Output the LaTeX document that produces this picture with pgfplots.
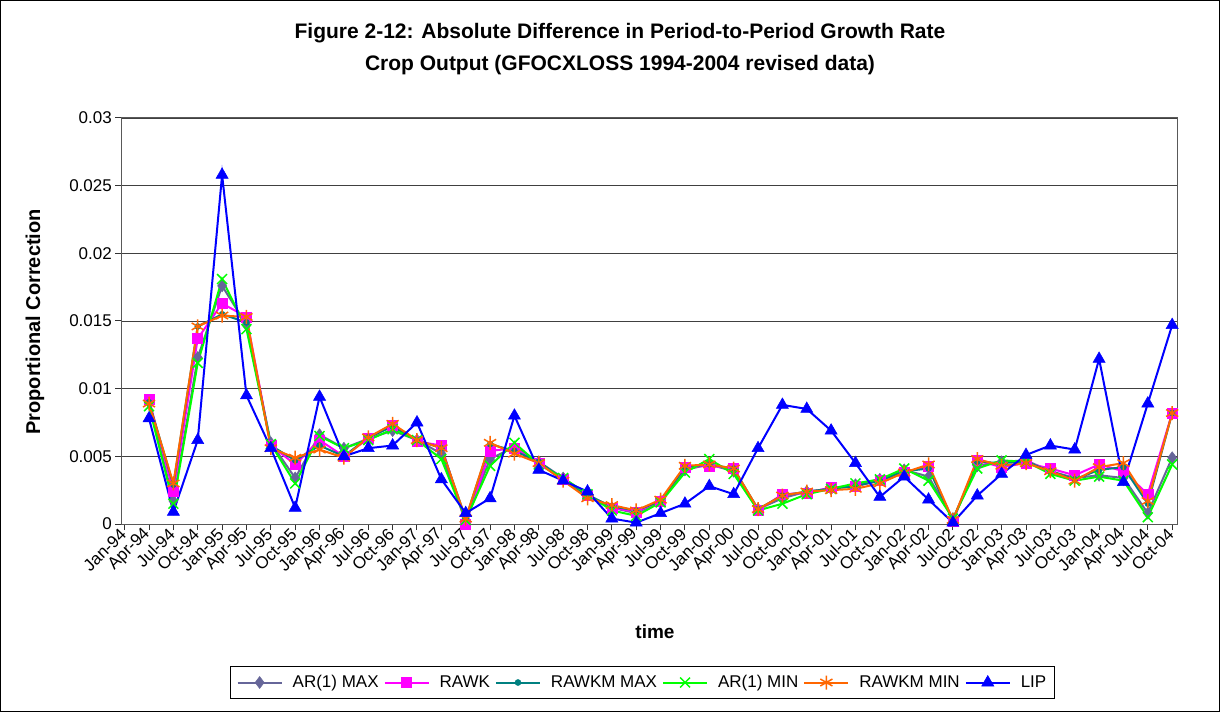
\documentclass[border=0pt]{standalone}
\usepackage{pgfplots}
\pgfplotsset{compat=1.18}
\usepackage{pgfplotstable}
\usepackage{fontspec}
\setmainfont{Liberation Sans}

\definecolor{armax}{HTML}{666699}
\definecolor{rawk}{HTML}{FF00FF}
\definecolor{rawkmmax}{HTML}{008080}
\definecolor{armin}{HTML}{00FF00}
\definecolor{rawkmmin}{HTML}{FF6600}
\definecolor{lip}{HTML}{0000FF}

\pgfplotstableread{
x armax rawk rkmax armin rkmin lip
1 0.0090 0.0092 0.0090 0.0087 0.0089 0.0078
2 0.0017 0.0024 0.0029 0.0015 0.0030 0.0009
3 0.0123 0.0137 0.0146 0.0119 0.0146 0.0062
4 0.0176 0.0163 0.0155 0.0181 0.0154 0.0258
5 0.0147 0.0153 0.0149 0.0144 0.0153 0.0095
6 0.0060 0.0058 0.0058 0.0059 0.0056 0.0056
7 0.0034 0.0044 0.0047 0.0030 0.0049 0.0012
8 0.0066 0.0062 0.0058 0.0065 0.0055 0.0094
9 0.0056 0.0050 0.0050 0.0056 0.0049 0.0050
10 0.0063 0.0063 0.0064 0.0062 0.0064 0.0056
11 0.0069 0.0073 0.0072 0.0070 0.0074 0.0058
12 0.0062 0.0061 0.0062 0.0062 0.0062 0.0075
13 0.0052 0.0058 0.0056 0.0048 0.0056 0.0033
14 0.0003 0.0000 0.0004 0.0003 0.0004 0.0008
15 0.0048 0.0054 0.0059 0.0043 0.0060 0.0019
16 0.0057 0.0056 0.0054 0.0060 0.0052 0.0080
17 0.0046 0.0045 0.0046 0.0044 0.0045 0.0040
18 0.0034 0.0033 0.0033 0.0034 0.0032 0.0032
19 0.0022 0.0021 0.0021 0.0022 0.0019 0.0024
20 0.0012 0.0012 0.0013 0.0010 0.0014 0.0004
21 0.0008 0.0009 0.0010 0.0006 0.0010 0.0001
22 0.0017 0.0017 0.0017 0.0016 0.0018 0.0008
23 0.0040 0.0042 0.0042 0.0038 0.0043 0.0015
24 0.0044 0.0043 0.0044 0.0048 0.0044 0.0028
25 0.0039 0.0041 0.0041 0.0037 0.0041 0.0022
26 0.0011 0.0010 0.0011 0.0010 0.0011 0.0056
27 0.0019 0.0022 0.0021 0.0015 0.0021 0.0088
28 0.0024 0.0023 0.0024 0.0022 0.0024 0.0085
29 0.0026 0.0027 0.0026 0.0026 0.0025 0.0069
30 0.0029 0.0028 0.0028 0.0030 0.0026 0.0045
31 0.0033 0.0032 0.0032 0.0033 0.0030 0.0020
32 0.0040 0.0038 0.0039 0.0041 0.0038 0.0035
33 0.0035 0.0043 0.0041 0.0032 0.0044 0.0018
34 0.0004 0.0002 0.0003 0.0004 0.0003 0.0001
35 0.0043 0.0047 0.0046 0.0041 0.0048 0.0021
36 0.0046 0.0042 0.0045 0.0047 0.0043 0.0037
37 0.0047 0.0045 0.0046 0.0046 0.0045 0.0051
38 0.0039 0.0041 0.0039 0.0037 0.0039 0.0058
39 0.0034 0.0036 0.0033 0.0032 0.0032 0.0055
40 0.0036 0.0044 0.0040 0.0035 0.0042 0.0122
41 0.0034 0.0039 0.0042 0.0032 0.0045 0.0031
42 0.0008 0.0022 0.0015 0.0005 0.0017 0.0089
43 0.0049 0.0082 0.0082 0.0044 0.0082 0.0147
}\data

\begin{document}
\begin{tikzpicture}[x=1pt,y=1pt]
\draw[line width=1.4pt] (0.7,0.7) rectangle (1219.3,711.3);
\node[font=\fontsize{21}{21}\selectfont\bfseries] at (620,679) {Figure 2-12: Absolute Difference in Period-to-Period Growth Rate};
\node[font=\fontsize{21}{21}\selectfont\bfseries] at (620,647) {Crop Output (GFOCXLOSS 1994-2004 revised data)};
\node[font=\fontsize{20}{20}\selectfont\bfseries, rotate=90] at (35,390) {Proportional Correction};
\node[font=\fontsize{19}{19}\selectfont\bfseries] at (655,80) {time};
\begin{axis}[
  at={(121pt,188pt)}, anchor=south west,
  width=1056pt, height=406pt, scale only axis,
  xmin=-0.15, xmax=43.2, ymin=0, ymax=0.03,
  scaled y ticks=false,
  xtick={0,...,43},
  xticklabels={Jan-94,Apr-94,Jul-94,Oct-94,Jan-95,Apr-95,Jul-95,Oct-95,Jan-96,Apr-96,Jul-96,Oct-96,Jan-97,Apr-97,Jul-97,Oct-97,Jan-98,Apr-98,Jul-98,Oct-98,Jan-99,Apr-99,Jul-99,Oct-99,Jan-00,Apr-00,Jul-00,Oct-00,Jan-01,Apr-01,Jul-01,Oct-01,Jan-02,Apr-02,Jul-02,Oct-02,Jan-03,Apr-03,Jul-03,Oct-03,Jan-04,Apr-04,Jul-04,Oct-04},
  ytick={0,0.005,0.01,0.015,0.02,0.025,0.03},
  yticklabels={0,0.005,0.01,0.015,0.02,0.025,0.03},
  xtick pos=bottom, ytick pos=left,
  ymajorgrids, grid style={black!75, line width=0.9pt},
  axis line style={gray!70!black, line width=1pt},
  tick style={black!80, line width=1pt},
  tick align=outside, major tick length=6pt,
  xticklabel style={rotate=45, anchor=east, font=\fontsize{17}{17}\selectfont, inner sep=2pt},
  yticklabel style={font=\fontsize{17}{17}\selectfont, inner sep=3pt},
  legend columns=6,
  legend style={at={(0.4938,-0.3904)}, anchor=center, draw=black, line width=1pt,
    font=\fontsize{17}{17}\selectfont, inner xsep=6pt, inner ysep=7pt,
    /tikz/every odd column/.append style={column sep=8pt},
    /tikz/every even column/.append style={column sep=3pt}},
  legend image code/.code={\draw[mark repeat=2,mark phase=2] plot coordinates {(0pt,0pt) (22pt,0pt) (44pt,0pt)};},
  every axis plot/.append style={line width=2pt},
]
\addplot[color=armax, mark=diamond*, mark size=6pt, mark options={solid, fill=armax, line width=0.5pt}] table[x=x,y=armax] {\data};
\addlegendentry{AR(1) MAX}
\addplot[color=rawk, mark=square*, mark size=5pt, mark options={solid, fill=rawk, line width=0.5pt}] table[x=x,y=rawk] {\data};
\addlegendentry{RAWK}
\addplot[color=rawkmmax, mark=*, mark size=3pt, mark options={solid, fill=rawkmmax, line width=0.5pt}] table[x=x,y=rkmax] {\data};
\addlegendentry{RAWKM MAX}
\addplot[color=armin, mark=x, mark size=7pt, mark options={solid, line width=1.5pt}] table[x=x,y=armin] {\data};
\addlegendentry{AR(1) MIN}
\addplot[color=rawkmmin, mark=asterisk, mark size=7pt, mark options={solid, line width=1.5pt}] table[x=x,y=rkmin] {\data};
\addlegendentry{RAWKM MIN}
\addplot[color=lip, mark=triangle*, mark size=7pt, mark options={solid, fill=lip, line width=0.5pt}] table[x=x,y=lip] {\data};
\addlegendentry{LIP}
\end{axis}
\end{tikzpicture}
\end{document}
